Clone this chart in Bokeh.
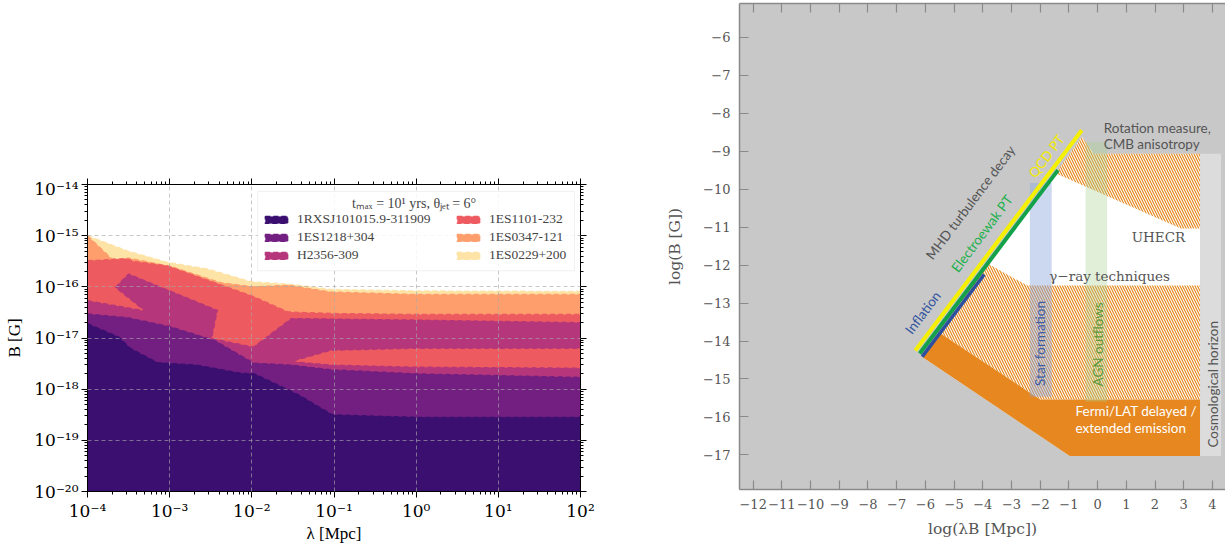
import numpy as np
from bokeh.plotting import figure
from bokeh.layouts import row, column
from bokeh.models import (Range1d, FixedTicker, CustomJSTickFormatter, LinearAxis, LogAxis,
                          Legend, LegendItem, Label, BoxAnnotation, Spacer)
from bokeh.embed import file_html
from bokeh.resources import INLINE
from bokeh.core.properties import value

# ================= LEFT PANEL DATA: log10(lambda/Mpc), log10(B/G) =================
SOURCES = ["1RXSJ101015.9-311909", "1ES1218+304", "H2356-309",
           "1ES1101-232", "1ES0347-121", "1ES0229+200"]
SRC_COLORS = ["#3b0f70", "#721f81", "#b5367a", "#ed5a60", "#fd9e6c", "#fde3a6"]

# upper edges of the excluded regions
L0229 = [-4.0, -3.51, -3.03, -2.54, -2.01, -1.52, -1.04, 0.0, 2.0]
B0229 = [-15.0, -15.30, -15.52, -15.65, -15.90, -15.95, -16.05, -16.08, -16.09]

L0347 = [-4.0, -3.70, -3.50, -2.99, -2.38, -1.98, -1.55, -1.04, 0.0, 2.0]
B0347 = [-15.0, -15.46, -15.44, -15.60, -15.92, -16.0, -15.97, -16.10, -16.15, -16.15]

L1101 = [-4.0, -3.52, -3.45, -3.03, -2.01, -1.56, -1.04, 0.0, 2.0]
B1101 = [-15.49, -15.45, -15.50, -15.59, -16.17, -16.49, -16.52, -16.54, -16.54]

# H2356-309: outline of region (with a non-excluded band at large lambda)
L2356 = [-4.0, -3.30, -3.66, -3.50, -2.42, -2.49, -1.98, -1.52, 0.0, 2.0,
         2.0, 0.0, -1.04, -1.52, -1.04, 0.0, 2.0]
B2356 = [-16.27, -16.47, -16.01, -15.75, -16.46, -17.01, -17.18, -16.62, -16.65, -16.70,
         -17.20, -17.20, -17.24, -17.46, -17.53, -17.57, -17.59]

L1218 = [-4.0, -3.52, -2.99, -2.45, -1.98, -1.52, -1.04, 0.0, 2.0]
B1218 = [-16.53, -16.60, -16.78, -17.05, -17.49, -17.53, -17.62, -17.70, -17.77]

L1010 = [-4.0, -3.62, -3.48, -3.15, -2.67, -2.13, -1.97, -1.56, -1.40, -1.02, 0.0, 2.0]
B1010 = [-16.72, -16.98, -17.20, -17.48, -17.53, -17.69, -17.70, -18.01, -18.14, -18.50, -18.55, -18.55]

X_DECADES = list(range(-4, 3))
Y_DECADES = list(range(-20, -13))

# ================= RIGHT PANEL DATA: log10(lambda_B/Mpc), log10(B/G) =================
ALLOWED_L = [-6.11, -0.54, -0.14, 3.57, 3.57, -0.97]
ALLOWED_B = [-14.42, -8.62, -9.07, -9.07, -17.03, -17.03]
UHECR_L = [-1.47, -0.54, -0.14, 3.57, 3.57, 2.9]
UHECR_B = [-9.58, -8.62, -9.07, -9.07, -11.04, -11.04]
GAMMA_L = [-5.47, -3.85, -2.45, 3.57, 3.57, -2.0]
GAMMA_B = [-13.80, -11.95, -12.54, -12.54, -15.54, -15.54]
FERMI_L = [-6.11, -5.47, -2.0, 3.57, 3.57, -0.97]
FERMI_B = [-14.42, -13.80, -15.54, -15.54, -17.03, -17.03]
HORIZON = dict(left=[3.57], right=[4.3], bottom=[-17.03], top=[-9.07])
STARF = dict(left=[-2.36], right=[-1.60], bottom=[-15.47], top=[-9.84])
AGN = dict(left=[-0.42], right=[0.33], bottom=[-15.60], top=[-8.76])
QCD_L, QCD_B = [-6.35, -0.55], [-14.25, -8.45]
EW_L, EW_B = [-6.20, -1.38], [-14.33, -9.50]
INF_L, INF_B = [-6.11, -3.95], [-14.41, -12.25]
R_XTICKS = list(range(-12, 5))
R_YTICKS = list(range(-17, -5))

SERIF = "Liberation Serif"
TICKFONT = "DejaVu Serif"

# ================= LEFT FIGURE =================
p1 = figure(width=640, height=367, x_axis_type="log", y_axis_type="log",
            x_range=Range1d(1e-4, 1e2), y_range=Range1d(1e-20, 1e-14),
            output_backend="svg", toolbar_location=None,
            min_border_left=87, min_border_right=60, min_border_top=5, min_border_bottom=52,
            outline_line_color="black", background_fill_color="white")

def region(lx, lb):
    return list(10.0 ** np.array(lx + [2.0, -4.0])), list(10.0 ** np.array(lb + [-20.0, -20.0]))

shapes = {
    "1ES0229+200": region(L0229, B0229),
    "1ES0347-121": region(L0347, B0347),
    "1ES1101-232": region(L1101, B1101),
    "H2356-309": region(L2356, B2356),
    "1ES1218+304": region(L1218, B1218),
    "1RXSJ101015.9-311909": region(L1010, B1010),
}
rends = {}
for name in ["1ES0229+200", "1ES0347-121", "1ES1101-232", "H2356-309", "1ES1218+304", "1RXSJ101015.9-311909"]:
    col = SRC_COLORS[SOURCES.index(name)]
    xs, ys = shapes[name]
    rends[name] = p1.patch(x=xs, y=ys, fill_color=col, line_color=col, line_dash="5 3", line_width=1.3)

xt1 = FixedTicker(ticks=[10.0 ** k for k in X_DECADES],
                  minor_ticks=[m * 10.0 ** k for k in X_DECADES[:-1] for m in range(2, 10)])
yt1 = FixedTicker(ticks=[10.0 ** k for k in Y_DECADES],
                  minor_ticks=[m * 10.0 ** k for k in Y_DECADES[:-1] for m in range(2, 10)])
sup_fmt = CustomJSTickFormatter(code="""
const e = Math.round(Math.log10(tick));
const m = {'-':'\u207b','0':'\u2070','1':'\u00b9','2':'\u00b2','3':'\u00b3','4':'\u2074','5':'\u2075','6':'\u2076','7':'\u2077','8':'\u2078','9':'\u2079'};
return '10' + String(e).split('').map(c => m[c]).join('');
""")
blank_fmt = CustomJSTickFormatter(code="return '';")

p1.add_layout(LogAxis(), "above")
p1.add_layout(LogAxis(), "right")
for ax in p1.axis:
    ax.major_tick_out = 6
    ax.major_tick_in = 0
    ax.minor_tick_out = 3
    ax.minor_tick_in = 0
    ax.axis_line_color = "black"
    ax.major_tick_line_color = "black"
    ax.minor_tick_line_color = "black"
    ax.major_label_text_font = TICKFONT
    ax.major_label_text_font_size = "17px"
    ax.major_label_text_color = "black"
    ax.major_label_standoff = 3
    ax.formatter = sup_fmt
for ax in p1.xaxis:
    ax.ticker = xt1
for ax in p1.yaxis:
    ax.ticker = yt1
for ax in (p1.above[0], p1.right[0]):
    ax.formatter = blank_fmt
    ax.major_label_standoff = 0

for ax, lab, st in ((p1.below[0], "\u03bb [Mpc]", 0), (p1.left[0], "B [G]", 7)):
    ax.axis_label = lab
    ax.axis_label_text_font = SERIF
    ax.axis_label_text_font_size = "17px"
    ax.axis_label_text_font_style = "normal"
    ax.axis_label_text_color = "black"
    ax.axis_label_standoff = st

p1.xgrid.ticker = xt1
p1.ygrid.ticker = yt1
p1.grid.grid_line_color = "#a8a8a8"
p1.grid.grid_line_dash = "4 3"
p1.grid.grid_line_alpha = 0.8
p1.grid.grid_line_width = 0.8
p1.grid.level = "guide"

# legend
p1.add_layout(BoxAnnotation(left=10 ** -1.93, right=10 ** 1.927, bottom=10 ** -15.686, top=10 ** -14.136,
                            fill_color="white", fill_alpha=0.85, line_color="#cccccc", line_width=1))
p1.add_layout(Label(x=10 ** -0.026, y=10 ** -14.37,
                    text="t\u2098\u2090\u2093 = 10\u00b9 yrs, \u03b8\u2c7c\u2091\u209c = 6\u00b0",
                    text_font=SERIF, text_font_size="14px", text_align="center", text_baseline="middle"))
common = dict(orientation="vertical", background_fill_alpha=0, border_line_color=None, padding=0,
              spacing=2, margin=0, label_height=16, glyph_height=9, glyph_width=28, label_standoff=7,
              label_text_font=SERIF, label_text_font_size="13.5px")
leg1 = Legend(items=[LegendItem(label=SOURCES[i], renderers=[rends[SOURCES[i]]]) for i in range(3)],
              location=(175, 228), **common)
leg2 = Legend(items=[LegendItem(label=SOURCES[i], renderers=[rends[SOURCES[i]]]) for i in range(3, 6)],
              location=(367, 228), **common)
p1.add_layout(leg1)
p1.add_layout(leg2)

left_col = column(Spacer(width=640, height=178), p1)

# ================= RIGHT FIGURE =================
p2 = figure(width=585, height=545, x_range=Range1d(-12.477, 4.456), y_range=Range1d(-17.91, -5.113),
            output_backend="svg", toolbar_location=None,
            min_border_left=99, min_border_right=0, min_border_top=3, min_border_bottom=56,
            background_fill_color="#c8c8c8", border_fill_color="white", outline_line_color=None)
p2.grid.visible = False

ORANGE = "#e6881f"
p2.patch(x=ALLOWED_L, y=ALLOWED_B, fill_color="white", line_color=None)
p2.patch(x=UHECR_L, y=UHECR_B, fill_color=None, line_color=None, hatch_pattern="\\",
         hatch_color=ORANGE, hatch_scale=5, hatch_weight=1.2)
p2.patch(x=GAMMA_L, y=GAMMA_B, fill_color=None, line_color=None, hatch_pattern="\\",
         hatch_color=ORANGE, hatch_scale=5, hatch_weight=1.2)
p2.patch(x=FERMI_L, y=FERMI_B, fill_color=ORANGE, line_color=None)
p2.quad(**HORIZON, fill_color="#dcdcdc", line_color=None)
p2.quad(**STARF, fill_color="#8fa9dc", fill_alpha=0.45, line_color=None)
p2.quad(**AGN, fill_color="#a9d18e", fill_alpha=0.35, line_color=None)
p2.line(QCD_L, QCD_B, line_color="#f5f000", line_width=4)
p2.line(EW_L, EW_B, line_color="#13a14a", line_width=4)
p2.line(INF_L, INF_B, line_color="#2d4f9e", line_width=3.5)

LATO = value("Lato")
ANG = np.deg2rad(53)
def rtext(x, y, t, color, angle=0.0, align="center", font=LATO, size="13.5px"):
    p2.text(x=[x], y=[y], text=[t], angle=angle, text_color=color, text_font=font,
            text_font_size=size, text_align=align, text_baseline="middle")

rtext(-4.43, -10.35, "MHD turbulence decay", "#555555", ANG)
rtext(-4.03, -11.17, "Electroewak PT", "#1db04c", ANG)
rtext(-1.78, -9.13, "QCD PT", "#f2ea00", ANG)
rtext(-6.09, -13.25, "Inflation", "#3355a0", ANG)
rtext(-1.99, -14.06, "Star formation", "#3a5ca8", np.pi / 2)
rtext(0.03, -14.09, "AGN outflows", "#5a9a3c", np.pi / 2)
rtext(4.02, -15.14, "Cosmological horizon", "#555555", np.pi / 2)
rtext(0.21, -8.40, "Rotation measure,", "#555555", 0.0, "left")
rtext(0.21, -8.82, "CMB anisotropy", "#555555", 0.0, "left")
rtext(-0.77, -15.85, "Fermi/LAT delayed /", "white", 0.0, "left")
rtext(-0.77, -16.29, "extended emission", "white", 0.0, "left")
rtext(2.12, -11.27, "UHECR", "#555555", 0.0, "center", value("DejaVu Serif"), "13.5px")
rtext(0.42, -12.30, "\u03b3\u2212ray techniques", "#555555", 0.0, "center", value("DejaVu Serif"), "13.5px")

xt2 = FixedTicker(ticks=R_XTICKS)
yt2 = FixedTicker(ticks=R_YTICKS)
minus_fmt = CustomJSTickFormatter(code="return (tick < 0 ? '\u2212' : '') + Math.abs(tick).toFixed(0);")
p2.add_layout(LinearAxis(), "above")
for ax in p2.axis:
    ax.major_tick_in = 9
    ax.major_tick_out = 0
    ax.minor_tick_in = 0
    ax.minor_tick_out = 0
    ax.axis_line_color = "#8a8a8a"
    ax.axis_line_width = 1.5
    ax.major_tick_line_color = "#8a8a8a"
    ax.major_tick_line_width = 1.2
    ax.major_label_text_font = TICKFONT
    ax.major_label_text_font_size = "13px"
    ax.major_label_text_color = "#555555"
    ax.major_label_standoff = 9
    ax.formatter = minus_fmt
for ax in p2.xaxis:
    ax.ticker = xt2
for ax in p2.yaxis:
    ax.ticker = yt2
p2.above[0].formatter = blank_fmt
p2.above[0].major_label_standoff = 0
for ax, lab, st in ((p2.left[0], "log(B [G])", 16), (p2.below[0], "log(\u03bbB [Mpc])", 8)):
    ax.axis_label = lab
    ax.axis_label_text_font = TICKFONT
    ax.axis_label_text_font_size = "15.5px"
    ax.axis_label_text_font_style = "normal"
    ax.axis_label_text_color = "#555555"
    ax.axis_label_standoff = st

layout = row(left_col, p2)
open("out.html", "w").write(file_html(layout, INLINE))
